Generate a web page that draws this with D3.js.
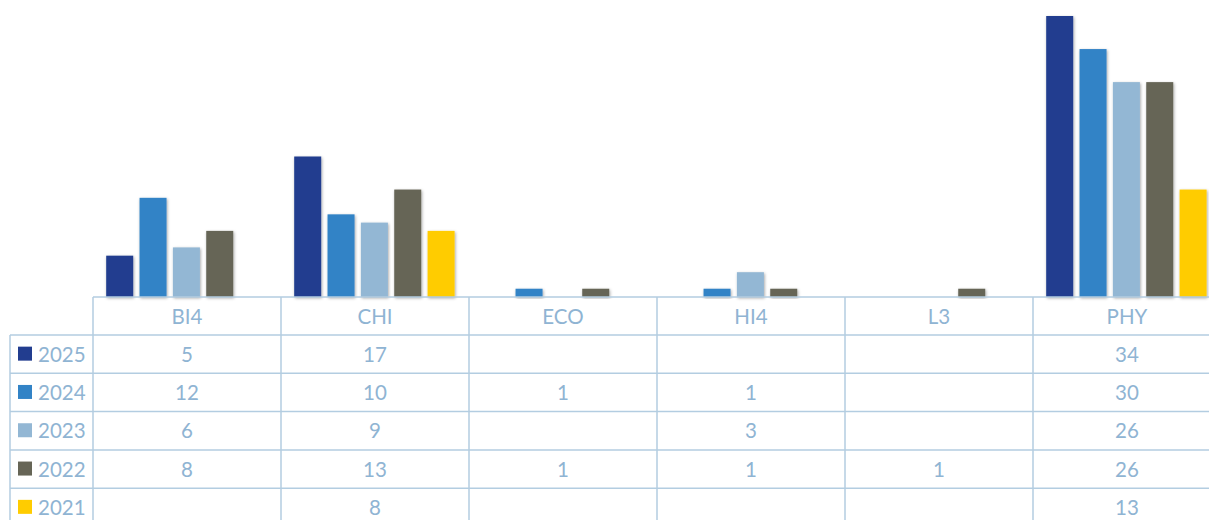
<!DOCTYPE html>
<html>
<head>
<meta charset="utf-8">
<script src="https://cdn.jsdelivr.net/npm/d3@7"></script>
<style>
  html, body { margin: 0; padding: 0; background: #fff; }
  svg { display: block; }
  text { font-family: Lato, "Open Sans", sans-serif; }
</style>
</head>
<body>
<svg id="chart" width="1209" height="520"></svg>
<script>
const categories = ["BI4", "CHI", "ECO", "HI4", "L3", "PHY"];
const years = ["2025", "2024", "2023", "2022", "2021"];
const v2025 = [5, 17, null, null, null, 34];
const v2024 = [12, 10, 1, 1, null, 30];
const v2023 = [6, 9, null, 3, null, 26];
const v2022 = [8, 13, 1, 1, 1, 26];
const v2021 = [null, 8, null, null, null, 13];
const colors = ["#223d8f", "#3283c6", "#93b7d4", "#666556", "#ffcc00"];

const seriesValues = [v2025, v2024, v2023, v2022, v2021];

const W = 1209, H = 520;
const tableLeft = 10, colStart = 93, colW = 188;
const baseY = 297, headerH = 38, rowH = 38.3;
const lineColor = "#b3cde1";
const textColor = "#8fb4d3";
const fs = 20.5;

const svg = d3.select("#chart");
const defs = svg.append("defs");
const f = defs.append("filter").attr("id", "shadow").attr("x", "-30%").attr("y", "-10%").attr("width", "160%").attr("height", "130%");
f.append("feDropShadow").attr("dx", 0.8).attr("dy", 1.2).attr("stdDeviation", 1.6)
  .attr("flood-color", "#000").attr("flood-opacity", 0.35);

const x = d3.scaleBand().domain(categories).range([colStart, colStart + categories.length * colW]);
const xi = d3.scaleBand().domain(years).range([13.2, colW - 14.4]).paddingInner(0.19);
const y = d3.scaleLinear().domain([0, 34]).range([baseY, 16]);

const barData = [];
seriesValues.forEach((vals, si) => {
  vals.forEach((v, ci) => {
    if (v != null) barData.push({ cat: categories[ci], year: years[si], value: v, color: colors[si] });
  });
});

svg.append("g").selectAll("rect").data(barData).join("rect")
  .attr("x", d => x(d.cat) + xi(d.year))
  .attr("y", d => y(d.value))
  .attr("width", xi.bandwidth())
  .attr("height", d => baseY - y(d.value))
  .attr("fill", d => d.color)
  .attr("filter", "url(#shadow)");

// Table
const tbl = svg.append("g");
const nRows = years.length;
const rowY = i => baseY + headerH + i * rowH;
tbl.append("line").attr("x1", colStart).attr("x2", W).attr("y1", baseY).attr("y2", baseY)
  .attr("stroke", lineColor).attr("stroke-width", 1.5);
for (let i = 0; i <= nRows; i++) {
  tbl.append("line").attr("x1", tableLeft).attr("x2", W).attr("y1", rowY(i)).attr("y2", rowY(i))
    .attr("stroke", lineColor).attr("stroke-width", 1.5);
}
tbl.append("line").attr("x1", tableLeft).attr("x2", tableLeft).attr("y1", rowY(0)).attr("y2", H)
  .attr("stroke", lineColor).attr("stroke-width", 1.5);
for (let c = 0; c <= categories.length; c++) {
  const xx = colStart + c * colW;
  tbl.append("line").attr("x1", xx).attr("x2", xx).attr("y1", baseY).attr("y2", H)
    .attr("stroke", lineColor).attr("stroke-width", 1.5);
}
tbl.selectAll("text.cat").data(categories).join("text").attr("class", "cat")
  .attr("x", d => x(d) + colW / 2).attr("y", baseY + headerH / 2 + 7.5)
  .attr("text-anchor", "middle").attr("font-size", fs).attr("fill", textColor)
  .text(d => d);
years.forEach((yr, i) => {
  const cy = rowY(i) + rowH / 2;
  tbl.append("rect").attr("x", 18).attr("y", cy - 7.5).attr("width", 14).attr("height", 14).attr("fill", colors[i]);
  tbl.append("text").attr("x", 38).attr("y", cy + 7.5).attr("font-size", fs).attr("fill", textColor).text(yr);
  seriesValues[i].forEach((v, ci) => {
    if (v != null) {
      tbl.append("text").attr("x", x(categories[ci]) + colW / 2).attr("y", cy + 7.5)
        .attr("text-anchor", "middle").attr("font-size", fs).attr("fill", textColor).text(v);
    }
  });
});
</script>
</body>
</html>
